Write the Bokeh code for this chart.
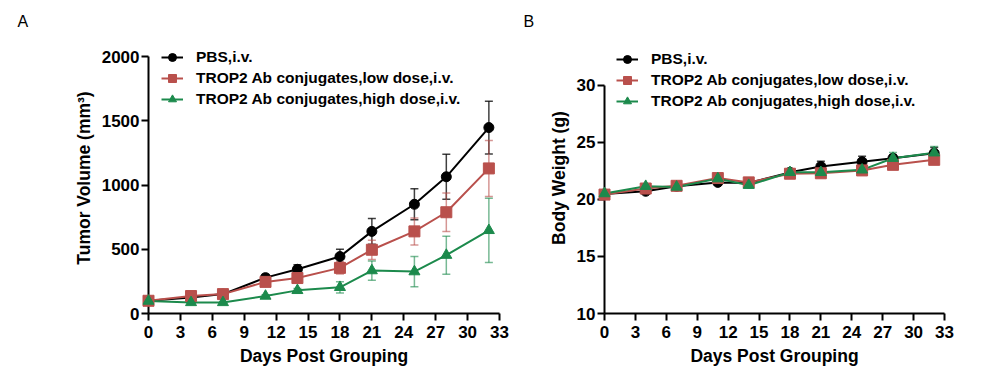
from bokeh.plotting import figure
from bokeh.models import (Range1d, FixedTicker, Legend, LegendItem, Whisker,
                          ColumnDataSource, Title, TeeHead)
from bokeh.layouts import row
from bokeh.embed import file_html
from bokeh.resources import INLINE

# ---------------- data ----------------
days = [0, 4, 7, 11, 14, 18, 21, 25, 28, 32]
x_ticks = [0, 3, 6, 9, 12, 15, 18, 21, 24, 27, 30, 33]

series_names = ["PBS,i.v.",
                "TROP2 Ab conjugates,low dose,i.v.",
                "TROP2 Ab conjugates,high dose,i.v."]

tumor_pbs = [99, 125, 151, 279, 344, 443, 639, 850, 1064, 1447]
tumor_pbs_err = [8, 10, 12, 25, 35, 57, 100, 120, 175, 205]
tumor_low = [99, 136, 151, 246, 276, 355, 496, 639, 788, 1129]
tumor_low_err = [8, 12, 12, 20, 25, 47, 75, 105, 150, 218]
tumor_high = [97, 86, 86, 136, 180, 204, 334, 326, 454, 647]
tumor_high_err = [6, 8, 8, 10, 15, 44, 75, 117, 148, 250]
tumor_ticks = [0, 500, 1000, 1500, 2000]

weight_pbs = [20.49, 20.72, 21.16, 21.5, 21.45, 22.38, 22.9, 23.3, 23.62, 24.06]
weight_pbs_err = [0.15, 0.2, 0.15, 0.2, 0.15, 0.15, 0.45, 0.5, 0.3, 0.5]
weight_low = [20.43, 20.96, 21.2, 21.88, 21.5, 22.26, 22.3, 22.55, 23.04, 23.48]
weight_low_err = [0.15, 0.2, 0.2, 0.25, 0.2, 0.2, 0.2, 0.25, 0.3, 0.3]
weight_high = [20.52, 21.16, 21.1, 21.83, 21.25, 22.38, 22.38, 22.6, 23.62, 24.1]
weight_high_err = [0.15, 0.2, 0.15, 0.2, 0.15, 0.2, 0.2, 0.2, 0.5, 0.55]
weight_ticks = [10, 15, 20, 25, 30]

colors = ["#000000", "#B9504C", "#1C8A4C"]
markers = ["circle", "square", "triangle"]
FONT = "Liberation Sans"


def style(p, ylabel, yticks, ybounds):
    p.outline_line_color = None
    p.xgrid.visible = False
    p.ygrid.visible = False
    p.xaxis.ticker = FixedTicker(ticks=x_ticks)
    p.yaxis.ticker = FixedTicker(ticks=yticks)
    p.yaxis.bounds = ybounds
    for ax in (p.xaxis[0], p.yaxis[0]):
        ax.axis_line_width = 2
        ax.major_tick_line_width = 2
        ax.major_tick_out = 7
        ax.major_tick_in = 0
        ax.minor_tick_line_color = None
        ax.major_label_text_font = FONT
        ax.major_label_text_font_style = "bold"
        ax.major_label_text_font_size = "17px"
        ax.major_label_text_color = "#000000"
        ax.axis_label_text_font = FONT
        ax.axis_label_text_font_style = "bold"
        ax.axis_label_text_font_size = "17.5px"
        ax.axis_label_text_color = "#000000"
    p.yaxis.major_label_standoff = 2
    p.xaxis.axis_label = "Days Post Grouping"
    p.yaxis.axis_label = ylabel


def add_series(p, ys, errs, tee):
    items = []
    for name, y, e, c, m in zip(series_names, ys, errs, colors, markers):
        src = ColumnDataSource(dict(x=days, y=y,
                                    upper=[a + b for a, b in zip(y, e)],
                                    lower=[a - b for a, b in zip(y, e)]))
        alpha = 0.75 if c == "#000000" else 0.6
        w = Whisker(source=src, base="x", upper="upper", lower="lower",
                    line_color=c, line_alpha=alpha, line_width=1.5,
                    upper_head=TeeHead(size=tee, line_color=c, line_alpha=alpha, line_width=1.5),
                    lower_head=TeeHead(size=tee, line_color=c, line_alpha=alpha, line_width=1.5),
                    level="underlay")
        p.add_layout(w)
        lr = p.line("x", "y", source=src, line_color=c, line_width=2)
        sr = p.scatter("x", "y", source=src, marker=m, size=11 if m != "circle" else 10,
                       fill_color=c, line_color=c)
        sr.level = "overlay"
        items.append(LegendItem(label=name, renderers=[lr, sr]))
    return items


def add_legend(p, items, loc):
    leg = Legend(items=items, location=loc, padding=0, margin=0, spacing=1,
                 glyph_width=22, glyph_height=20, label_height=20,
                 label_standoff=13, border_line_color=None,
                 background_fill_alpha=0,
                 label_text_font=FONT, label_text_font_style="bold",
                 label_text_font_size="15.5px", label_text_color="#000000")
    p.add_layout(leg)


def add_letter(p, text, offset):
    p.add_layout(Title(text=text, align="left", offset=offset, standoff=22,
                       vertical_align="top",
                       text_font=FONT, text_font_style="normal",
                       text_font_size="16px", text_color="#000000"), "above")


TOP, FH, BOT = 42, 271, 63

# ---------------- panel A ----------------
pa = figure(frame_width=351, frame_height=FH, min_border_left=148,
            min_border_right=13, min_border_top=TOP, min_border_bottom=BOT,
            x_range=Range1d(0, 33), y_range=Range1d(0, 2109),
            output_backend="svg", toolbar_location=None)
style(pa, "Tumor Volume (mm\u00b3)", tumor_ticks, (0, 2000))
items_a = add_series(pa, [tumor_pbs, tumor_low, tumor_high],
                     [tumor_pbs_err, tumor_low_err, tumor_high_err], 8)
add_legend(pa, items_a, (13, 204))
add_letter(pa, "A", -131)

# ---------------- panel B ----------------
pb = figure(frame_width=340, frame_height=FH, min_border_left=92,
            min_border_right=35, min_border_top=TOP, min_border_bottom=BOT,
            x_range=Range1d(0, 33), y_range=Range1d(10, 33.77),
            output_backend="svg", toolbar_location=None)
style(pb, "Body Weight (g)", weight_ticks, (10, 30))
items_b = add_series(pb, [weight_pbs, weight_low, weight_high],
                     [weight_pbs_err, weight_low_err, weight_high_err], 8)
add_legend(pb, items_b, (12, 202))
add_letter(pb, "B", -81)

layout = row(pa, pb)
open("out.html", "w").write(file_html(layout, INLINE))
